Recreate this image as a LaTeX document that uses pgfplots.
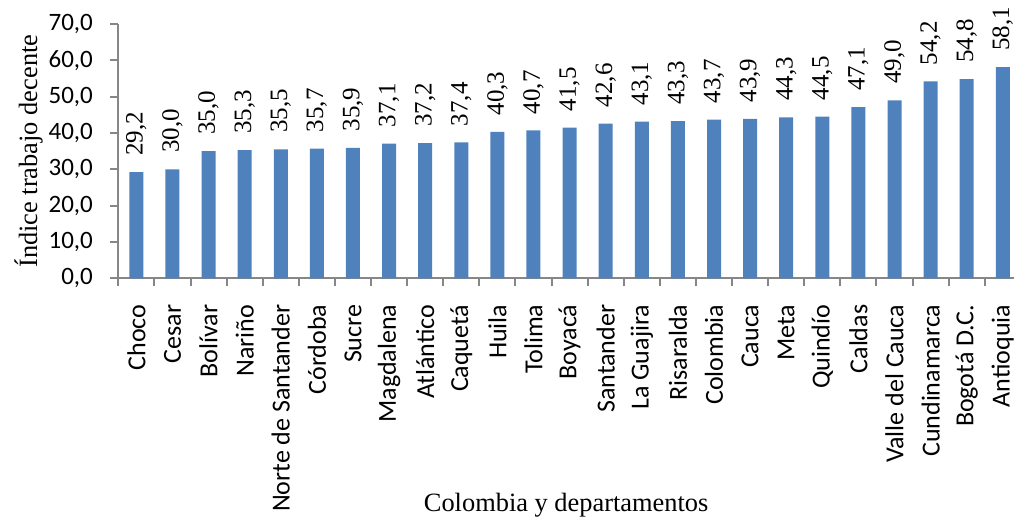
\documentclass[border=0pt]{standalone}
\usepackage{fontspec}
\setmainfont{Liberation Serif}
\newfontfamily\carlito{Carlito}
\usepackage{pgfplots}
\pgfplotsset{compat=1.18}
\definecolor{barblue}{HTML}{4F81BD}
\definecolor{axisgray}{HTML}{868686}
\newcommand{\valuefont}{\fontsize{12.5}{14}\selectfont}

\begin{document}
\begin{tikzpicture}
\begin{axis}[
  scale only axis,
  width=447.85pt, height=127.15pt,
  xmin=-0.5, xmax=24.31, ymin=0, ymax=70,
  axis x line*=bottom, axis y line*=left,
  axis line style={axisgray, line width=1pt, -},
  tick align=outside,
  major tick length=4pt, minor tick length=4pt,
  tick style={axisgray, line width=1pt},
  major x tick style={draw=none},
  xtick={0,...,24},
  minor xtick={-0.5,0.5,...,24.5},
  ytick={0,10,...,70},
  xticklabels={Choco, Cesar, Bolívar, Nariño, Norte de Santander, Córdoba,
    Sucre, Magdalena, Atlántico, Caquetá, Huila, Tolima, Boyacá, Santander,
    La Guajira, Risaralda, Colombia, Cauca, Meta, Quindío, Caldas,
    Valle del Cauca, Cundinamarca, Bogotá D.C., Antioquia},
  xticklabel style={rotate=90, anchor=east, inner sep=0pt,
    font=\carlito\fontsize{13}{15}\selectfont},
  xticklabel shift=9pt,
  yticklabel style={anchor=east, inner sep=0pt,
    font=\carlito\fontsize{12.5}{15}\selectfont},
  yticklabel shift=8.5pt,
  /pgf/number format/.cd, fixed, fixed zerofill, precision=1, use comma,
    assume math mode=true,
  /pgfplots/.cd,
  ylabel={Índice trabajo decente},
  ylabel style={at={(axis description cs:-0.1,0.5)}, anchor=center,
    font=\fontsize{13.2}{15}\selectfont},
  xlabel={Colombia y departamentos},
  xlabel style={at={(axis description cs:0.5,-0.893)}, anchor=center,
    font=\fontsize{13.2}{15}\selectfont},
  clip=false,
]
\addplot[ybar, bar width=7pt, fill=barblue, draw=none,
  nodes near coords={\valuefont\pgfmathprintnumber{\pgfplotspointmeta}},
  every node near coord/.append style={rotate=90, anchor=west,
    inner xsep=8pt, inner ysep=0pt, text=black}]
  coordinates {
  (0,29.2) (1,30.0) (2,35.0) (3,35.3) (4,35.5) (5,35.7) (6,35.9)
  (7,37.1) (8,37.2) (9,37.4) (10,40.3) (11,40.7) (12,41.5) (13,42.6)
  (14,43.1) (15,43.3) (16,43.7) (17,43.9) (18,44.3) (19,44.5) (20,47.1)
  (21,49.0) (22,54.2) (23,54.8) (24,58.1)
  };
\coordinate (ll) at (rel axis cs:0,0);
\coordinate (ur) at (rel axis cs:1,1);
\end{axis}
\pgfresetboundingbox
\path[use as bounding box] ([xshift=-59.15pt, yshift=-120.35pt]ll)
  rectangle ([yshift=12pt]ur);
\end{tikzpicture}
\end{document}
